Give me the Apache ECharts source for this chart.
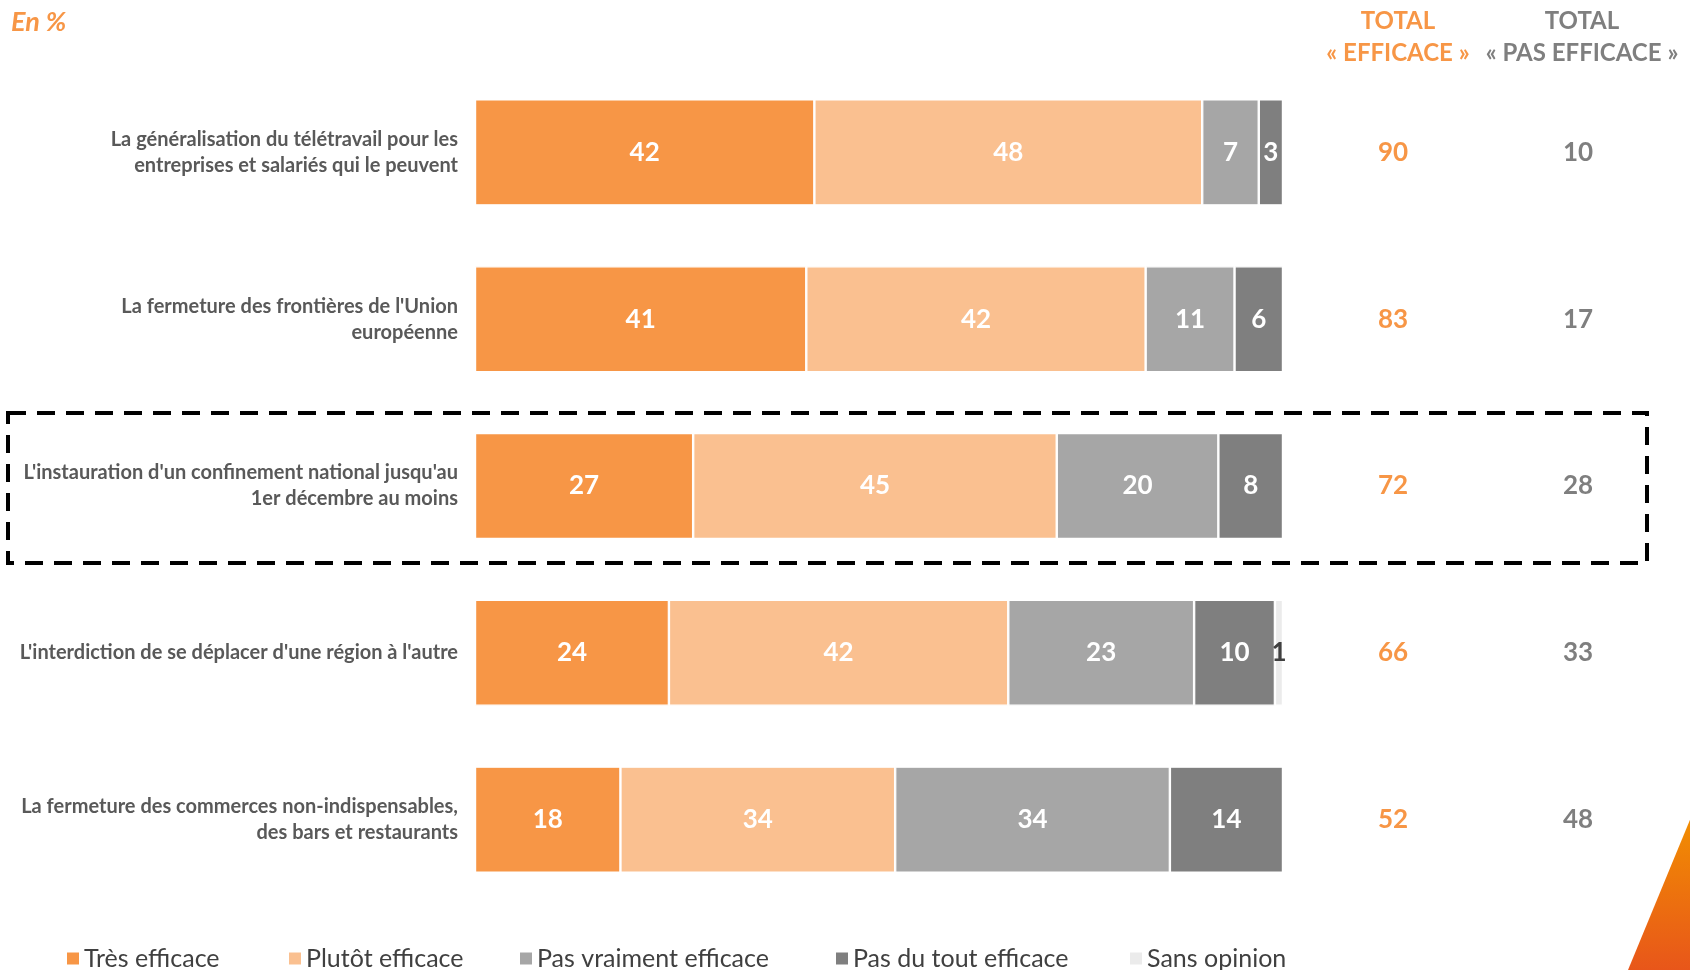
<!DOCTYPE html>
<html><head><meta charset="utf-8">
<script src="https://cdn.jsdelivr.net/npm/echarts@6/dist/echarts.min.js"></script>
<style>html,body{margin:0;padding:0;background:#fff}#c{width:1690px;height:970px}</style>
</head><body><div id="c"></div>
<script>
const categories = [
  "La généralisation du télétravail pour les\nentreprises et salariés qui le peuvent",
  "La fermeture des frontières de l'Union\neuropéenne",
  "L'instauration d'un confinement national jusqu'au\n1er décembre au moins",
  "L'interdiction de se déplacer d'une région à l'autre",
  "La fermeture des commerces non-indispensables,\ndes bars et restaurants"
];
const seriesNames = ["Très efficace","Plutôt efficace","Pas vraiment efficace","Pas du tout efficace","Sans opinion"];
const tresEfficace = [42,41,27,24,18];
const plutotEfficace = [48,42,45,42,34];
const pasVraiment = [7,11,20,23,34];
const pasDuTout = [3,6,8,10,14];
const sansOpinion = [0,0,0,1,0];
const totalEfficace = [90,83,72,66,52];
const totalPasEfficace = [10,17,28,33,48];

const colors = ["#F79646","#FAC090","#A6A6A6","#7F7F7F","#EBEBEB"];
const labelColors = ["#fff","#fff","#fff","#fff","#404040"];
const values = [tresEfficace, plutotEfficace, pasVraiment, pasDuTout, sansOpinion];
const FONT = "Lato, 'Open Sans', sans-serif";

const chart = echarts.init(document.getElementById('c'), null, {renderer:'canvas'});
const series = values.map((arr, i) => ({
  name: seriesNames[i], type: 'bar', stack: 'all', barWidth: 106,
  data: arr,
  itemStyle: {color: colors[i], borderColor: '#fff', borderWidth: 1.2},
  label: {show: true, position: 'inside', color: labelColors[i],
    fontFamily: FONT, fontWeight: 'bold', fontSize: 26,
    formatter: p => p.value > 0 ? p.value : ''}
}));

const legendLeft = [67, 289, 520, 836, 1130];
const legends = seriesNames.map((n, i) => ({
  data: [n], left: legendLeft[i], top: 946, padding: 0, icon: 'rect', itemWidth: 12, itemHeight: 12,
  selectedMode: false,
  itemStyle: {borderWidth: 0},
  textStyle: {fontFamily: FONT, fontSize: 25, color: '#404040'}
}));

const titleStyle = {fontFamily: FONT, fontWeight: 'bold', fontSize: 24, lineHeight: 32};
chart.setOption({
  animation: false,
  grid: {left: 475, right: 407, top: 69, bottom: 67},
  legend: legends,
  title: [
    {text: 'En %', left: 11, top: 9, padding: 0, textStyle: {fontFamily: FONT, fontStyle: 'italic', fontWeight: 'bold', fontSize: 27, color: '#F79646'}},
    {text: 'TOTAL\n« EFFICACE »', left: 1393, top: 0, textAlign: 'center', textStyle: Object.assign({color: '#F79646', align: 'center'}, titleStyle)},
    {text: 'TOTAL\n« PAS EFFICACE »', left: 1577, top: 0, textAlign: 'center', textStyle: Object.assign({color: '#7F7F7F', align: 'center'}, titleStyle)}
  ],
  xAxis: {type: 'value', min: 0, max: 100, show: false},
  yAxis: [
    {type: 'category', inverse: true, data: categories,
     axisLine: {show: false}, axisTick: {show: false},
     axisLabel: {margin: 17, align: 'right', fontFamily: FONT, fontWeight: 'bold', fontSize: 20, lineHeight: 26, color: '#595959'}},
    {type: 'category', inverse: true, position: 'right', data: totalEfficace,
     axisLine: {show: false}, axisTick: {show: false},
     axisLabel: {margin: 110, align: 'center', fontFamily: FONT, fontWeight: 'bold', fontSize: 26, color: '#F79646'}},
    {type: 'category', inverse: true, position: 'right', data: totalPasEfficace,
     axisLine: {show: false}, axisTick: {show: false},
     axisLabel: {margin: 295, align: 'center', fontFamily: FONT, fontWeight: 'bold', fontSize: 26, color: '#7F7F7F'}}
  ],
  series: series,
  graphic: [
    {type: 'rect', shape: {x: 8, y: 413, width: 1639, height: 150}, z: 100,
     style: {fill: 'none', stroke: '#000', lineWidth: 4, lineDash: [18, 11]}},
    {type: 'polygon', shape: {points: [[1694, 810], [1628, 970], [1694, 970]]}, z: 1,
     style: {fill: new echarts.graphic.LinearGradient(0, 0, 0, 1, [{offset: 0, color: '#F29100'}, {offset: 1, color: '#E8561A'}])}}
  ]
});
</script></body></html>
